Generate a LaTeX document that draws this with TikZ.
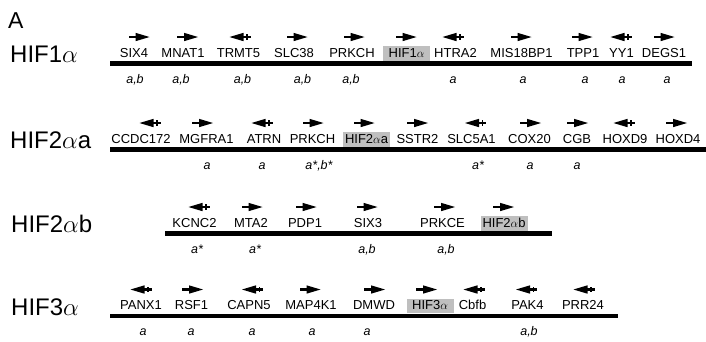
\documentclass[tikz,border=0pt]{standalone}
\usepackage{fontspec}
\setmainfont{Liberation Sans}
\tikzset{
 gtext/.style={anchor=base, inner sep=0pt, font=\fontsize{13}{15}\selectfont},
 hbox/.style={anchor=base, fill=black!25, inner xsep=0pt, inner ysep=1.5pt, minimum width=47pt, text height=9.5pt, text depth=2pt, font=\fontsize{13}{15}\selectfont},
 gann/.style={anchor=base, inner sep=0pt, font=\fontsize{12.5}{14}\selectfont\itshape},
 big/.style={anchor=base west, inner sep=0pt, font=\fontsize{24}{28}\selectfont},
 glyph/.style={fill=black},
 chrom/.style={line width=4.8pt},
}
% arrow glyphs: #1 x, #2 y
\newcommand\arR[2]{%
 \fill[glyph] (#1-10.5,#2-1.1) rectangle (#1-2,#2+1.1);
 \fill[glyph] (#1-3.5,#2-4.2) -- (#1+10.5,#2) -- (#1-3.5,#2+4.2) -- cycle;}
\newcommand\arL[2]{%
 \fill[glyph] (#1+10.5,#2-1.1) rectangle (#1+2,#2+1.1);
 \fill[glyph] (#1+3.5,#2-4.2) -- (#1-10.5,#2) -- (#1+3.5,#2+4.2) -- cycle;
 \fill[glyph] (#1+6,#2-2.8) rectangle (#1+7.5,#2+2.8);}
% #1 id, #2 text x, #3 bar y, #4 text, #5 arrow x
\newcommand\gR[5]{\node[gtext] (#1) at (#2,#3-6.5) {#4};
 \arR{#5}{#3-26.5}}
\newcommand\gL[5]{\node[gtext] (#1) at (#2,#3-6.5) {#4};
 \arL{#5}{#3-26.5}}
\newcommand\gH[5]{\node[hbox] (#1) at (#2,#3-6.5) {#4};
 \arR{#5}{#3-26.5}}
% #1 id, #2 x, #3 bar y, #4 text
\newcommand\an[4]{\node[gann] (#1) at (#2,#3+19.5) {#4};}
\newcommand\hifa{$\alpha$}
\begin{document}
\begin{tikzpicture}[x=1pt,y=-1pt]
\useasboundingbox (0,0) rectangle (706,341);
\node[big, font=\fontsize{23}{26}\selectfont] (lblA) at (8,28.5) {A};
% ---------- row 1 ----------
\def\by{63.5}
\node[big] (r1) at (10,\by-1) {HIF1\hifa};
\coordinate (r1s) at (110,\by); \coordinate (r1e) at (692,\by);
\draw[chrom] (r1s) -- (r1e);
\gR{six4}{134}{\by}{SIX4}{139}
\gR{mnat1}{183}{\by}{MNAT1}{187.5}
\gL{trmt5}{238.5}{\by}{TRMT5}{240}
\gR{slc38}{294}{\by}{SLC38}{297}
\gR{prkch}{352}{\by}{PRKCH}{354}
\gH{hif1}{406.5}{\by}{HIF1\hifa}{406}
\gL{htra2}{455.5}{\by}{HTRA2}{453}
\gR{mis18}{521.5}{\by}{MIS18BP1}{521}
\gR{tpp1}{583}{\by}{TPP1}{582}
\gL{yy1}{621.5}{\by}{YY1}{621}
\gR{degs1}{664}{\by}{DEGS1}{664}
\an{six4a}{135}{\by}{a,b}
\an{mnat1a}{181}{\by}{a,b}
\an{trmt5a}{242.5}{\by}{a,b}
\an{slc38a}{302.5}{\by}{a,b}
\an{prkcha}{351}{\by}{a,b}
\an{htra2a}{453}{\by}{a}
\an{mis18a}{523}{\by}{a}
\an{tpp1a}{585}{\by}{a}
\an{yy1a}{622}{\by}{a}
\an{degs1a}{667}{\by}{a}
% ---------- row 2 ----------
\def\by{149.5}
\node[big] (r2) at (10,\by-1) {HIF2\hifa a};
\coordinate (r2s) at (110,\by); \coordinate (r2e) at (706,\by);
\draw[chrom] (r2s) -- (r2e);
\gL{ccdc}{141}{\by}{CCDC172}{150}
\gR{mgfra}{206.5}{\by}{MGFRA1}{202.5}
\gL{atrn}{264}{\by}{ATRN}{262}
\gR{prkchb}{312.5}{\by}{PRKCH}{313}
\gH{hif2a}{366.5}{\by}{HIF2\hifa a}{364}
\gR{sstr2}{417.5}{\by}{SSTR2}{417.5}
\gL{slc5a1}{471.5}{\by}{SLC5A1}{475.5}
\gR{cox20}{529.5}{\by}{COX20}{530.5}
\gR{cgb}{577}{\by}{CGB}{577.5}
\gL{hoxd9}{625}{\by}{HOXD9}{624}
\gR{hoxd4}{678}{\by}{HOXD4}{676.5}
\an{mgfraa}{207}{\by}{a}
\an{atrna}{262}{\by}{a}
\an{prkchba}{319}{\by}{a*,b*}
\an{slc5a1a}{478}{\by}{a*}
\an{cox20a}{530}{\by}{a}
\an{cgba}{577}{\by}{a}
% ---------- row 3 ----------
\def\by{233.5}
\node[big] (r3) at (11,\by-1) {HIF2\hifa b};
\coordinate (r3s) at (165,\by); \coordinate (r3e) at (552,\by);
\draw[chrom] (r3s) -- (r3e);
\gL{kcnc2}{194.5}{\by}{KCNC2}{199}
\gR{mta2}{251}{\by}{MTA2}{252}
\gR{pdp1}{305}{\by}{PDP1}{306}
\gR{six3}{368}{\by}{SIX3}{367}
\gR{prkce}{442.5}{\by}{PRKCE}{444.5}
\gH{hif2b}{504}{\by}{HIF2\hifa b}{503.5}
\an{kcnc2a}{197}{\by}{a*}
\an{mta2a}{255}{\by}{a*}
\an{six3a}{367}{\by}{a,b}
\an{prkcea}{446}{\by}{a,b}
% ---------- row 4 ----------
\def\by{316}
\node[big] (r4) at (11,\by-1) {HIF3\hifa};
\coordinate (r4s) at (110,\by); \coordinate (r4e) at (618,\by);
\draw[chrom] (r4s) -- (r4e);
\gL{panx1}{141}{\by}{PANX1}{141}
\gR{rsf1}{191.5}{\by}{RSF1}{192.5}
\gL{capn5}{249}{\by}{CAPN5}{252.5}
\gR{map4k1}{311}{\by}{MAP4K1}{310}
\gR{dmwd}{374}{\by}{DMWD}{374.5}
\gH{hif3}{430}{\by}{HIF3\hifa}{426.5}
\gL{cbfb}{472.5}{\by}{Cbfb}{474}
\gL{pak4}{527.5}{\by}{PAK4}{526.5}
\gL{prr24}{583}{\by}{PRR24}{584}
\an{panx1a}{143}{\by}{a}
\an{rsf1a}{191}{\by}{a}
\an{capn5a}{252}{\by}{a}
\an{map4k1a}{312}{\by}{a}
\an{dmwda}{367}{\by}{a}
\an{pak4a}{529}{\by}{a,b}
\end{tikzpicture}
\end{document}
